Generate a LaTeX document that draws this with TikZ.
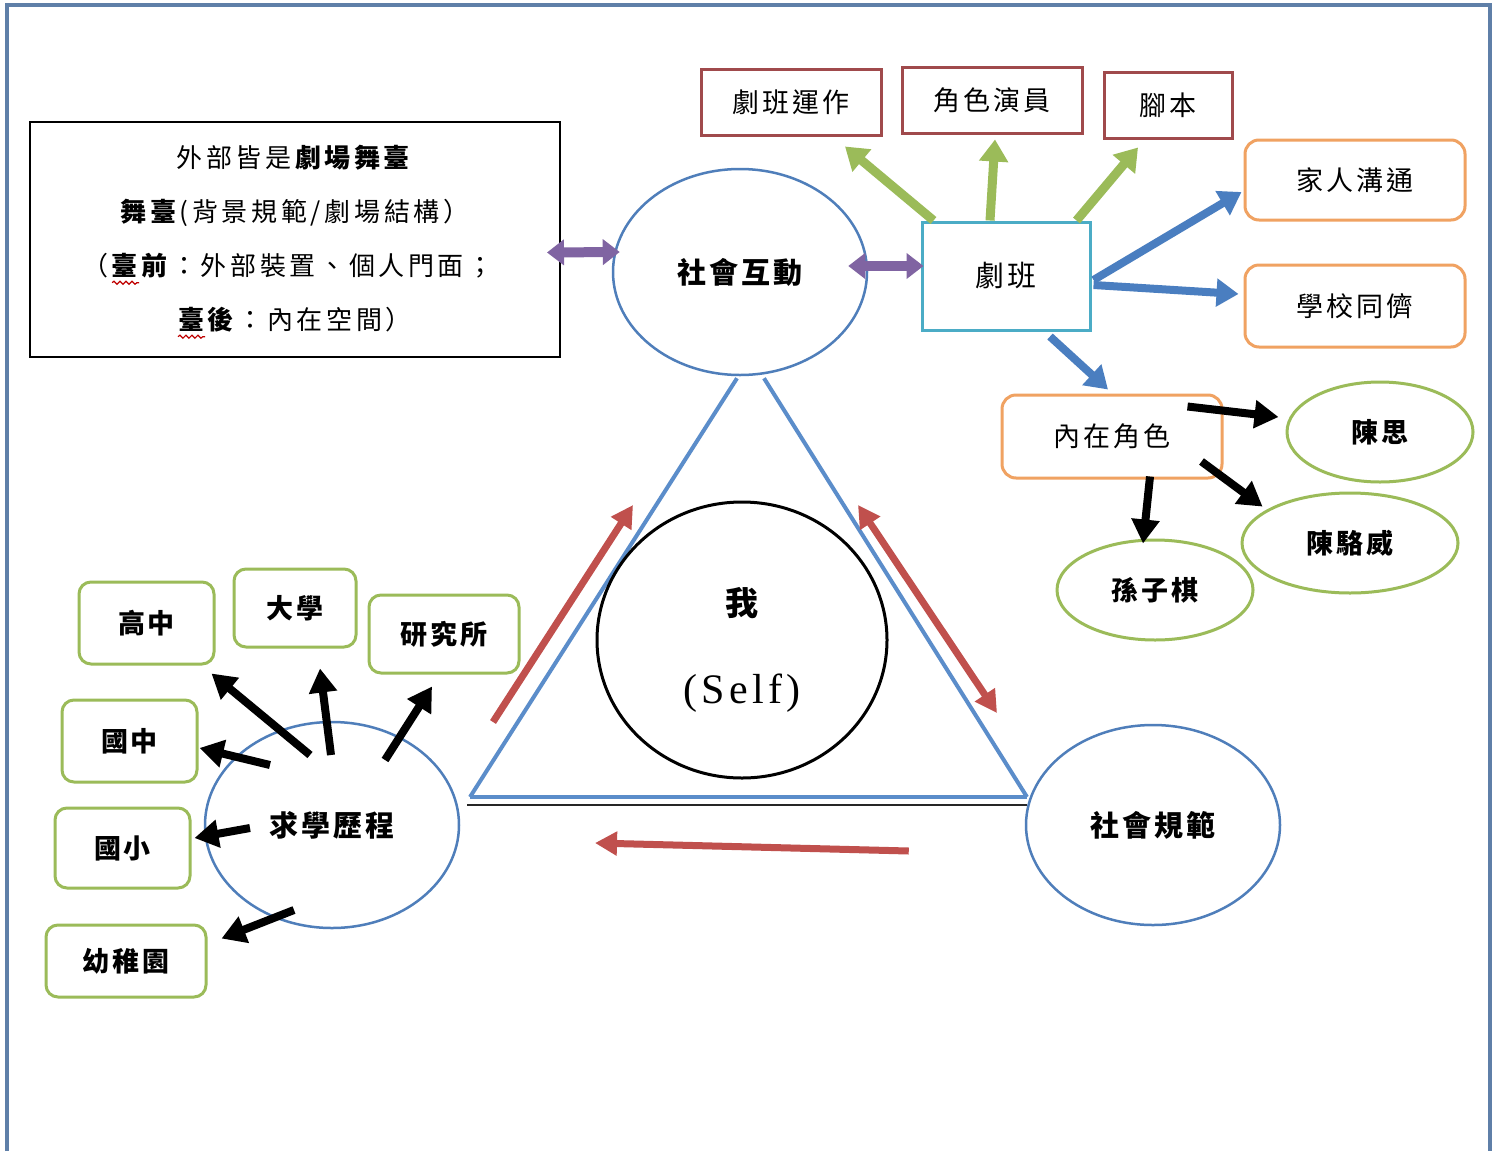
\documentclass[tikz,border=0pt]{standalone}
\usepackage{fontspec}
\setmainfont{Liberation Serif}
\newfontfamily\cjkf[LetterSpace=10]{Noto Sans CJK TC}
\newfontfamily\cjkstage[LetterSpace=14]{Noto Sans CJK TC}
\newfontfamily\selffont[LetterSpace=10]{Liberation Serif}
\usetikzlibrary{arrows.meta,calc,shapes.geometric,decorations.pathmorphing}
\definecolor{framec}{HTML}{5F7FA8}
\definecolor{ellblue}{HTML}{4F7EBA}
\definecolor{tealc}{HTML}{4BACC6}
\definecolor{boxred}{HTML}{A04A4C}
\definecolor{boxorange}{HTML}{F0A262}
\definecolor{boxgreen}{HTML}{9BBB59}
\definecolor{purp}{HTML}{8064A2}
\definecolor{arrred}{HTML}{C0504D}
\definecolor{arrblue}{HTML}{4A7EC0}
\definecolor{trib}{HTML}{5B8DCA}
\begin{document}
\begin{tikzpicture}[x=1pt,y=-1pt,
  lab/.style={font=\cjkf\fontsize{27}{32}\selectfont},
  labb/.style={font=\cjkf\bfseries\fontsize{27}{32}\selectfont},
  big/.style={font=\cjkf\bfseries\fontsize{29}{34}\selectfont},
  stagetxt/.style={font=\cjkstage\fontsize{26}{30}\selectfont, inner sep=0pt},
  ell/.style={ellipse, draw=ellblue, line width=2.5pt, inner sep=0pt},
  ellg/.style={ellipse, draw=boxgreen, line width=3pt, inner sep=0pt, labb},
  boxr/.style={rectangle, draw=boxred, line width=3pt, inner sep=0pt, lab},
  boxo/.style={rectangle, rounded corners=14pt, draw=boxorange, line width=3pt, inner sep=0pt, lab},
  boxg/.style={rectangle, rounded corners=12pt, draw=boxgreen, line width=3pt, inner sep=0pt, labb},
  parrow/.style={draw=purp, line width=10pt, {Triangle[length=17pt,width=25pt]}-{Triangle[length=17pt,width=25pt]}},
  garrow/.style={draw=boxgreen, line width=9pt, -{Triangle[length=22pt,width=28pt]}},
  barrow/.style={draw=arrblue, line width=8pt, -{Triangle[length=22pt,width=27pt]}},
  karrow/.style={draw=black, line width=8pt, -{Triangle[length=24pt,width=27pt]}},
  rarrow/.style={draw=arrred, line width=7pt, -{Triangle[length=22pt,width=23pt]}},
  rdarrow/.style={draw=arrred, line width=7pt, {Triangle[length=22pt,width=23pt]}-{Triangle[length=22pt,width=23pt]}},
  triline/.style={draw=trib, line width=4pt},
  wave/.style={draw=red!75!black, line width=1.2pt, decorate, decoration={snake, amplitude=1.5pt, segment length=6pt}}
]
\useasboundingbox (0,0) rectangle (1498,1151);
\fill[white] (0,0) rectangle (1498,1151);
% outer frame
\draw[draw=framec, line width=4pt] (7,1151) -- (7,5) -- (1490,5) -- (1490,1151);

% stage text box
\node[draw=black, line width=2pt, minimum width=530pt, minimum height=235pt, inner sep=0pt] (stage) at (295,239.5) {};
\node[stagetxt] (st1) at (295,158) {外部皆是\textbf{劇場舞臺}};
\node[stagetxt] (st2) at (295,213) {\textbf{舞臺}(背景規範/劇場結構）};
\node[stagetxt] (st3) at (288,266) {（\textbf{臺前}：外部裝置、個人門面；};
\node[stagetxt] (st4) at (295,320) {\textbf{臺後}：內在空間）};
\draw[wave] ($(st3.south west)+(30,4)$) -- ($(st3.south west)+(57,4)$);
\draw[wave] ($(st4.south west)+(0,4)$) -- ($(st4.south west)+(27,4)$);

% triangle
\node[ell, minimum width=254pt, minimum height=206pt, big] (social) at (740,272) {社會互動};
\coordinate (tL) at (470,797);
\coordinate (tR) at (1027,797);
\draw[triline] (tL) -- ($(social.south)+(-3,2)$);
\draw[triline] (tR) -- ($(social.south)+(24,2)$);
\draw[triline] (tL) -- (tR);
\draw[draw=black!85, line width=2pt] ($(tL)+(-3,8)$) -- ($(tR)+(0,8)$);

% self
\node[ellipse, draw=black, line width=3pt, minimum width=290pt, minimum height=276pt, inner sep=0pt] (self) at (742,640) {};
\node[font=\cjkf\bfseries\fontsize{33}{36}\selectfont] (selfzh) at (742,603) {我};
\node[font=\selffont\fontsize{42}{46}\selectfont] (selfen) at (742,693) {(Self)};

% troupe
\node[rectangle, draw=tealc, line width=3pt, minimum width=168pt, minimum height=108pt, inner sep=0pt, font=\cjkf\fontsize{29}{34}\selectfont] (troupe) at (1006,276) {劇班};
\node[boxr, minimum width=180pt, minimum height=66pt] (op) at (791,102) {劇班運作};
\node[boxr, minimum width=180pt, minimum height=66pt] (actor) at (992,100) {角色演員};
\node[boxr, minimum width=128pt, minimum height=66pt] (script) at (1168,105) {腳本};
\node[boxo, minimum width=220pt, minimum height=80pt] (family) at (1355,180) {家人溝通};
\node[boxo, minimum width=220pt, minimum height=82pt] (peers) at (1355,306) {學校同儕};
\node[boxo, minimum width=220pt, minimum height=83pt] (inner) at (1112,436.5) {內在角色};
\node[ellg, minimum width=186pt, minimum height=100pt] (chensi) at (1380,432) {陳思};
\node[ellg, minimum width=216pt, minimum height=100pt] (luowei) at (1350,543) {陳駱威};
\node[ellg, minimum width=196pt, minimum height=100pt] (ziqi) at (1155,590) {孫子棋};

% study and norms
\node[ell, minimum width=254pt, minimum height=206pt, big] (study) at (332,825) {求學歷程};
\node[ell, minimum width=254pt, minimum height=200pt, big] (norm) at (1153,825) {社會規範};
\node[boxg, minimum width=135pt, minimum height=82pt] (high) at (146.5,623) {高中};
\node[boxg, minimum width=122pt, minimum height=78pt] (univ) at (295,608) {大學};
\node[boxg, minimum width=150pt, minimum height=78pt] (grad) at (444,634) {研究所};
\node[boxg, minimum width=135pt, minimum height=82pt] (junior) at (129.5,741) {國中};
\node[boxg, minimum width=135pt, minimum height=80pt] (primary) at (122.5,848) {國小};
\node[boxg, minimum width=160pt, minimum height=72pt] (kinder) at (126,961) {幼稚園};

% purple arrows
\draw[parrow] ($(stage.east)+(-14,13)$) -- ($(social.west)+(8,-20)$);
\draw[parrow] ($(social.east)+(-20,-6)$) -- ($(troupe.west)+(3,-10)$);

% green arrows
\draw[garrow] ($(troupe.north west)+(13,0)$) -- ($(op.south)+(54,10)$);
\draw[garrow] ($(troupe.north)+(-16,0)$) -- ($(actor.south)+(3,5)$);
\draw[garrow] ($(troupe.north east)+(-15,0)$) -- ($(script.south)+(-30,8)$);

% blue arrows
\draw[barrow] ($(troupe.east)+(2,4)$) -- ($(family.west)+(-2,12)$);
\draw[barrow] ($(troupe.east)+(2,9)$) -- ($(peers.west)+(-5,-12)$);
\draw[barrow] ($(troupe.south)+(44,5)$) -- ($(inner.north)+(-4,-4)$);

% black arrows from inner role
\draw[karrow] ($(inner.north east)+(-36,13)$) -- ($(chensi.west)+(-7,-15)$);
\draw[karrow] ($(inner.south east)+(-22,-18)$) -- ($(luowei.north west)+(-10,0)$);
\draw[karrow] ($(inner.south)+(38,-3)$) -- ($(ziqi.north)+(-12,5)$);

% black arrows from study
\draw[karrow] ($(study.center)+(-22,-70)$) -- ($(high.south east)+(-4,8)$);
\draw[karrow] ($(study.center)+(-1,-70)$) -- ($(univ.south)+(25,20)$);
\draw[karrow] ($(study.center)+(53,-65)$) -- ($(grad.south)+(-12,12)$);
\draw[karrow] ($(study.center)+(-62,-60)$) -- ($(junior.east)+(1,7)$);
\draw[karrow] ($(study.center)+(-82,3)$) -- ($(primary.east)+(3,-10)$);
\draw[karrow] ($(study.center)+(-38,85)$) -- ($(kinder.north east)+(14,15)$);

% red arrows
\draw[rarrow] ($(self.center)+(-249,82)$) -- ($(self.center)+(-109,-135)$);
\draw[rdarrow] ($(self.center)+(116,-135)$) -- ($(self.center)+(255,73)$);
\draw[rarrow] ($(norm.west)+(-116,26)$) -- ($(self.center)+(-147,203)$);
\end{tikzpicture}
\end{document}
